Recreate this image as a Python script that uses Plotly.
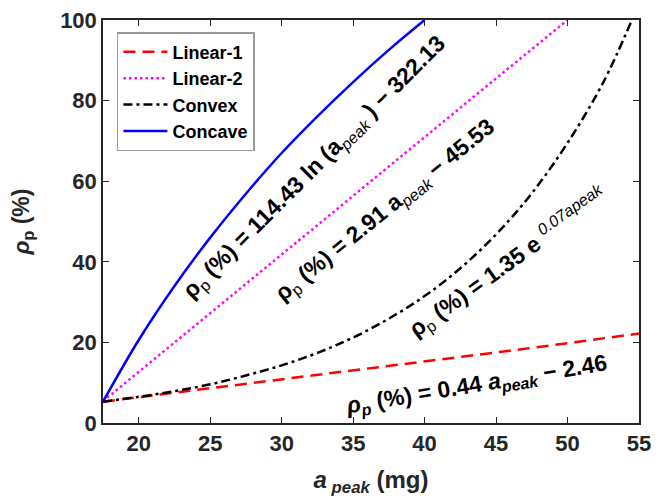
import plotly.graph_objects as go

# Data
lin1_x = [17.5, 25, 30, 35, 40, 45, 50, 55]
lin1_y = [5.3, 8.6, 10.8, 13.0, 15.3, 17.5, 19.8, 22.2]

lin2_x = [17.5, 20, 25, 30, 35, 40, 45, 50]
lin2_y = [5.4, 12.7, 27.3, 41.9, 56.4, 71.0, 85.5, 100.0]

cvx_x = [17.5, 20, 22.5, 25, 27.5, 30, 32.5, 35, 37.5, 40, 42.5, 45, 47.5, 50, 52.5, 54.5]
cvx_y = [5.3, 6.5, 7.9, 9.6, 11.8, 14.3, 17.4, 21.2, 25.9, 31.5, 38.4, 46.8, 57.0, 69.5, 84.5, 100.0]

ccv_x = [17.5, 20, 22.5, 25, 27.5, 30, 32.5, 35, 37.5, 40]
ccv_y = [5.3, 20.6, 34.0, 46.0, 56.9, 67.0, 76.1, 84.6, 92.6, 100.0]

x_ticks = [20, 25, 30, 35, 40, 45, 50, 55]
y_ticks = [0, 20, 40, 60, 80, 100]

FONT = "Liberation Sans, Arial, sans-serif"
GREY = "#262626"

fig = go.Figure()
fig.add_trace(go.Scatter(x=lin1_x, y=lin1_y, mode="lines", name="Linear-1",
                         line=dict(color="#ff0000", width=2.5, dash="12px,7px")))
fig.add_trace(go.Scatter(x=lin2_x, y=lin2_y, mode="lines", name="Linear-2",
                         line=dict(color="#ff00ff", width=2.5, dash="2.5px,3px")))
fig.add_trace(go.Scatter(x=cvx_x, y=cvx_y, mode="lines", name="Convex",
                         line=dict(color="#000000", width=2.5, dash="9px,4px,3px,4px"), line_shape="spline"))
fig.add_trace(go.Scatter(x=ccv_x, y=ccv_y, mode="lines", name="Concave",
                         line=dict(color="#0000ff", width=2.5), line_shape="spline"))

ann = [
    ("ρ<sub><span style='font-weight:normal'>p</span></sub> (%) = 114.43 ln (a<sub><i><span style='font-weight:normal'>peak</span></i></sub> ) − 322.13",
     32.33, 63.3, -45),
    ("ρ<sub><span style='font-weight:normal'>p</span></sub> (%) = 2.91 a<sub><i><span style='font-weight:normal'>peak</span></i></sub> − 45.53",
     37.26, 52.8, -39),
    ("ρ<sub><span style='font-weight:normal'>p</span></sub> (%) = 1.35 e <sup><i><span style='font-weight:normal'>0.07apeak</span></i></sup>",
     45.8, 40.0, -35.5),
    ("<i>ρ</i><sub><i>p</i></sub> (%) = 0.44 <i>a</i><sub><i>peak</i></sub> − 2.46",
     43.6, 9.4, -9.5),
]
for t, ax, ay, ang in ann:
    fig.add_annotation(x=ax, y=ay, xref="x", yref="y", text=t, showarrow=False,
                       textangle=ang, font=dict(family=FONT, size=23, color="black", weight="bold"))

fig.update_layout(
    width=669, height=499,
    margin=dict(l=95, r=38, t=12, b=84, autoexpand=False),
    paper_bgcolor="white", plot_bgcolor="white",
    font=dict(family=FONT, color=GREY, weight="bold"),
    legend=dict(x=0.026, y=0.97, xanchor="left", yanchor="top",
                bgcolor="white", bordercolor="#999999", borderwidth=1.5,
                font=dict(family=FONT, size=18, color="black", weight="bold"),
                tracegroupgap=0, itemwidth=44),
    showlegend=True,
)
fig.update_xaxes(range=[17.5, 55], tickvals=x_ticks, ticks="inside", ticklen=6,
                 tickcolor=GREY, showline=True, linecolor=GREY, linewidth=1.5, mirror="ticks",
                 showgrid=False, zeroline=False, automargin=False, ticklabeloverflow="allow",
                 tickfont=dict(family=FONT, size=22, color=GREY, weight="bold"),
                 title=dict(text="<i>a</i><sub><i> peak</i></sub> (mg)", standoff=16,
                            font=dict(family=FONT, size=24, color=GREY, weight="bold")))
fig.update_yaxes(range=[0, 100], tickvals=y_ticks, ticks="inside", ticklen=6,
                 tickcolor=GREY, showline=True, linecolor=GREY, linewidth=1.5, mirror="ticks",
                 showgrid=False, zeroline=False, automargin=False, ticklabeloverflow="allow",
                 tickfont=dict(family=FONT, size=22, color=GREY, weight="bold"),
                 title=dict(text="<i>ρ</i><sub>p</sub> (%)", standoff=27,
                            font=dict(family=FONT, size=23, color=GREY, weight="bold")))

fig.write_html("out.html")
